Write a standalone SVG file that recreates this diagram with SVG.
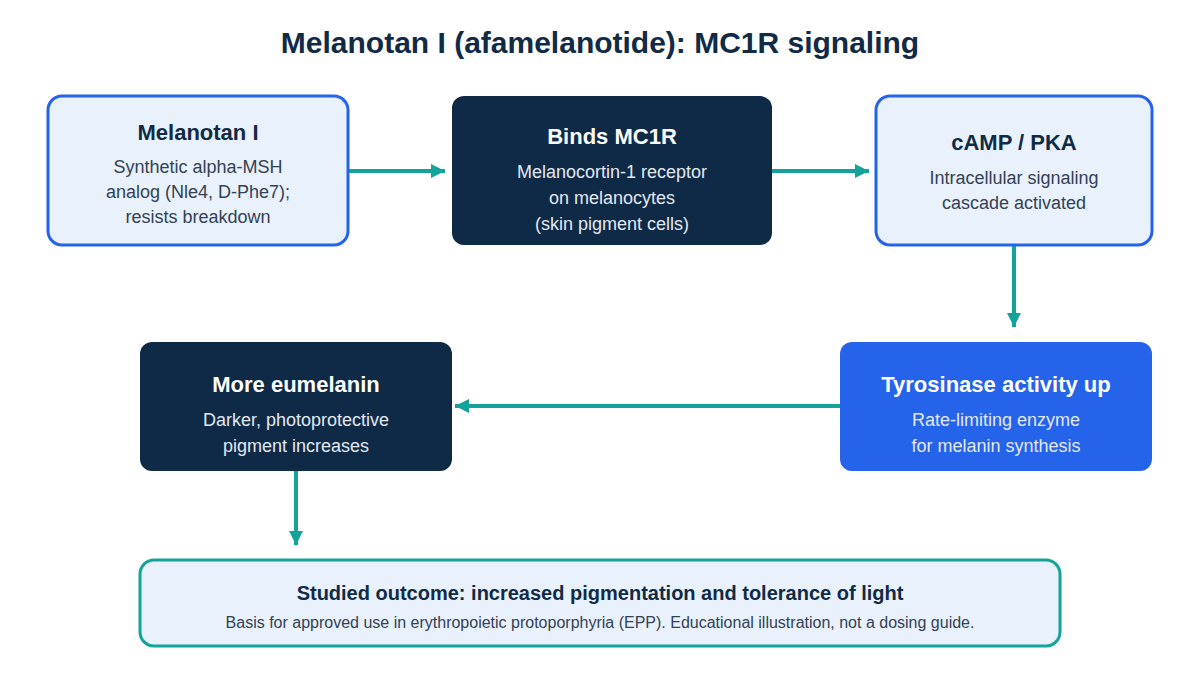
<svg xmlns="http://www.w3.org/2000/svg" width="1200" height="675" viewBox="0 0 1200 675">
<style>
text{font-family:"Liberation Sans",Arial,sans-serif;text-anchor:middle}
.title{font-size:30px;font-weight:bold;fill:#112a46}
.lt{fill:#e8f1fc;stroke:#2563eb;stroke-width:3}
.dk{fill:#0f2a47}
.bl{fill:#2563eb}
.out{fill:#e8f1fc;stroke:#14a39a;stroke-width:3}
.h{font-size:22px;font-weight:bold}
.hd{fill:#112a46}
.hw{fill:#ffffff}
.s{font-size:18px}
.sd{fill:#334155}
.sw{fill:#e2e8f0}
.conn{stroke:#14a39a;stroke-width:4;fill:none}
</style>
<defs>
<marker id="arr" markerWidth="14" markerHeight="14" refX="14" refY="7" orient="auto" markerUnits="userSpaceOnUse" viewBox="0 0 14 14"><path d="M0,0 L14,7 L0,14 z" fill="#14a39a"/></marker>
</defs>
<rect width="1200" height="675" fill="#ffffff"/>
<text class="title" x="600" y="53">Melanotan I (afamelanotide): MC1R signaling</text>
<g id="connectors">
<line class="conn" x1="349" y1="171" x2="445" y2="171" marker-end="url(#arr)"/>
<line class="conn" x1="772" y1="171" x2="869" y2="171" marker-end="url(#arr)"/>
<line class="conn" x1="1014" y1="246" x2="1014" y2="327" marker-end="url(#arr)"/>
<line class="conn" x1="840" y1="406" x2="455" y2="406" marker-end="url(#arr)"/>
<line class="conn" x1="296" y1="471" x2="296" y2="545" marker-end="url(#arr)"/>
</g>
<g id="n1">
<rect class="lt" x="48" y="96" width="300" height="149" rx="14"/>
<text class="h hd" x="198" y="140">Melanotan I</text>
<text class="s sd" x="198" y="173">Synthetic alpha-MSH</text>
<text class="s sd" x="198" y="198">analog (Nle4, D-Phe7);</text>
<text class="s sd" x="198" y="223">resists breakdown</text>
</g>
<g id="n2">
<rect class="dk" x="452" y="96" width="320" height="149" rx="12"/>
<text class="h hw" x="612" y="144">Binds MC1R</text>
<text class="s sw" x="612" y="178">Melanocortin-1 receptor</text>
<text class="s sw" x="612" y="204">on melanocytes</text>
<text class="s sw" x="612" y="230">(skin pigment cells)</text>
</g>
<g id="n3">
<rect class="lt" x="876" y="96" width="276" height="149" rx="14"/>
<text class="h hd" x="1014" y="150">cAMP / PKA</text>
<text class="s sd" x="1014" y="184">Intracellular signaling</text>
<text class="s sd" x="1014" y="209">cascade activated</text>
</g>
<g id="n4">
<rect class="bl" x="840" y="342" width="312" height="129" rx="12"/>
<text class="h hw" x="996" y="392">Tyrosinase activity up</text>
<text class="s sw" x="996" y="426">Rate-limiting enzyme</text>
<text class="s sw" x="996" y="452">for melanin synthesis</text>
</g>
<g id="n5">
<rect class="dk" x="140" y="342" width="312" height="129" rx="12"/>
<text class="h hw" x="296" y="392">More eumelanin</text>
<text class="s sw" x="296" y="426">Darker, photoprotective</text>
<text class="s sw" x="296" y="452">pigment increases</text>
</g>
<g id="n6">
<rect class="out" x="140" y="560" width="920" height="86" rx="14"/>
<text class="hd" x="600" y="600" font-size="20" font-weight="bold">Studied outcome: increased pigmentation and tolerance of light</text>
<text class="sd" x="600" y="628" font-size="16">Basis for approved use in erythropoietic protoporphyria (EPP). Educational illustration, not a dosing guide.</text>
</g>
</svg>
